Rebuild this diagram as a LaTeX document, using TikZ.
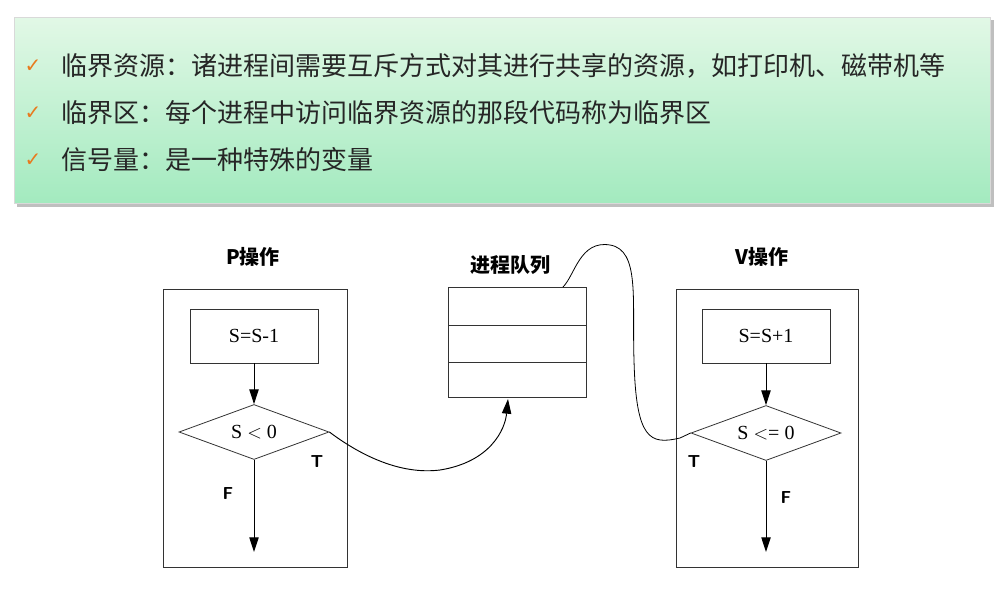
\documentclass[tikz,border=0pt]{standalone}
\usepackage{fontspec}
\setmainfont{Liberation Serif}
\newfontfamily\cjk{Noto Sans CJK SC}
\newfontfamily\sym{DejaVu Sans}
\usetikzlibrary{shapes.geometric,arrows.meta,shadows}
\definecolor{gtop}{HTML}{E2F8E6}
\definecolor{gbot}{HTML}{A3EABF}
\definecolor{chk}{HTML}{E87A1E}
\begin{document}
\begin{tikzpicture}[x=0.75pt,y=-0.75pt,
  box/.style={draw=black!80,line width=0.6pt,minimum width=128*0.75pt,minimum height=54*0.75pt,font=\fontsize{15}{15}\selectfont},
  dia/.style={draw=black!80,diamond,line width=0.6pt,minimum width=150*0.75pt,minimum height=55*0.75pt,aspect=2.7,inner sep=0pt,font=\fontsize{15}{15}\selectfont},
  frame/.style={draw=black!80,line width=0.6pt},
  ttl/.style={font=\cjk\bfseries\fontsize{15}{15}\selectfont},
  lbl/.style={font=\sffamily\bfseries\fontsize{13}{13}\selectfont},
  arr/.style={-{Triangle[length=11pt,width=7pt]},line width=0.7pt},
  item/.style={anchor=west,font=\cjk\fontsize{19.5}{19.5}\selectfont,text=black!85},
  tick/.style={font=\sym\fontsize{15}{15}\selectfont,text=chk}]
\useasboundingbox (0,0) rectangle (1007,590);
\fill[black!25] (17,20) rectangle (994,207);
\shade[top color=gtop,bottom color=gbot,draw=black!15] (14,17) rectangle (990,203);
\foreach \y/\t in {66/{临界资源：诸进程间需要互斥方式对其进行共享的资源，如打印机、磁带机等},113/{临界区：每个进程中访问临界资源的那段代码称为临界区},160/{信号量：是一种特殊的变量}}{
  \node[tick] at (33,\y) {✓};
  \node[item] at (57,\y) {\t};
}
% P
\draw[frame] (163,289) rectangle (347,567);
\node[ttl] (pt) at (253,257) {P操作};
\node[box] (p1) at (254,336) {S=S-1};
\node[dia] (pd) at (254,432) {S $<$ 0};
\coordinate (pe) at (254,552);
\draw[arr] (p1) -- (pd);
\draw[arr] (pd.south) -- (pe);
\node[lbl] at (317,462) {T};
\node[lbl] at (228,494) {F};
% queue
\draw[frame] (448,287) rectangle (586,397);
\draw[frame] (448,325) -- (586,325) (448,362) -- (586,362);
\node[ttl] (qt) at (510,265) {进程队列};
% V
\draw[frame] (676,289) rectangle (858,567);
\node[ttl] (vt) at (762,257) {V操作};
\node[box] (v1) at (766,336) {S=S+1};
\node[dia] (vd) at (766,433) {S $<$= 0};
\coordinate (ve) at (766,552);
\draw[arr] (v1) -- (vd);
\draw[arr] (vd.south) -- (ve);
\node[lbl] at (694,462) {T};
\node[lbl] at (786,498) {F};
% curves
\coordinate (qb) at (508,399);
\coordinate (qtr) at (563,287);
\draw[arr] (pd.east) .. controls (360,455) and (400,475) .. (440,470) .. controls (490,462) and (505,430) .. (qb);
\draw[line width=0.6pt] (qtr) .. controls (575,275) and (580,240) .. (610,245) .. controls (640,250) and (632,300) .. (634,360) .. controls (636,440) and (650,445) .. (680,438) -- (vd.west);
\end{tikzpicture}
\end{document}
